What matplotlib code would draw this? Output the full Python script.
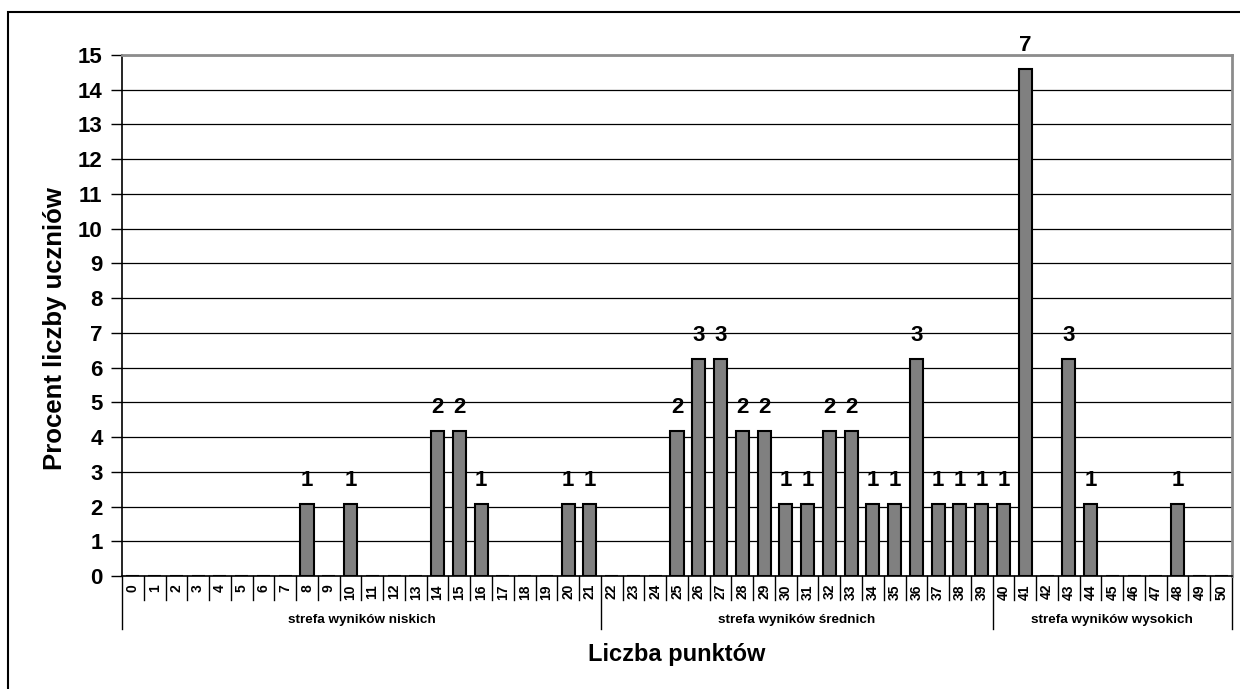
import matplotlib
matplotlib.use("Agg")
import matplotlib.pyplot as plt
from matplotlib.patches import Rectangle
from matplotlib.lines import Line2D
import matplotlib.transforms as mtransforms
import numpy as np

plt.rcParams['font.family'] = ['Liberation Sans', 'DejaVu Sans']
plt.rcParams['font.weight'] = 'bold'

# ---- data ----
points = list(range(51))
counts = [0, 0, 0, 0, 0, 0, 0, 0, 1, 0,
          1, 0, 0, 0, 2, 2, 1, 0, 0, 0,
          1, 1, 0, 0, 0, 2, 3, 3, 2, 2,
          1, 1, 2, 2, 1, 1, 3, 1, 1, 1,
          1, 7, 0, 3, 1, 0, 0, 0, 1, 0,
          0]
total_students = sum(counts)
percent = [c / total_students * 100 for c in counts]
zones = ["strefa wyników niskich", "strefa wyników średnich", "strefa wyników wysokich"]
zone_ranges = [(0, 21), (22, 39), (40, 50)]
y_ticks = list(range(16))
x_title = "Liczba punktów"
y_title = "Procent liczby uczniów"

W, H = 1240, 689
fig = plt.figure(figsize=(W / 100, H / 100), dpi=100)
fig.patch.set_facecolor('white')

left, right, top, bottom = 122, 1232, 55, 576
ax = fig.add_axes([left / W, 1 - bottom / H, (right - left) / W, (bottom - top) / H])
plot_h = bottom - top

ax.bar(points, percent, width=0.6, color='#808080', edgecolor='black', linewidth=1.5, zorder=3)
ax.set_xlim(-0.5, 50.5)
ax.set_ylim(0, 15)
ax.set_yticks(y_ticks)
ax.set_yticklabels([str(t) for t in y_ticks], fontsize=16, fontweight='bold')
ax.tick_params(axis='y', direction='out', length=8, width=1, pad=6)
ax.set_xticks([])
ax.yaxis.grid(True, color='black', linewidth=0.9, zorder=0)
ax.set_axisbelow(True)

for s in ['top', 'right']:
    ax.spines[s].set_color('#8c8c8c')
    ax.spines[s].set_linewidth(2)
ax.spines['left'].set_color('black')
ax.spines['left'].set_linewidth(1.2)
ax.spines['bottom'].set_color('black')
ax.spines['bottom'].set_linewidth(1.2)

# count labels
for x, p, c in zip(points, percent, counts):
    if c > 0:
        ax.annotate(str(c), (x, p), xytext=(0, 13), textcoords='offset points',
                    ha='center', va='baseline', fontsize=16, fontweight='bold')

trans = mtransforms.blended_transform_factory(ax.transData, ax.transAxes)
sep_small = -24 / plot_h
sep_big = -53 / plot_h
# category tick labels and separators
for x in points:
    ax.text(x, -8 / plot_h, str(x), transform=trans, rotation=90, ha='center', va='top',
            fontsize=10, fontweight='bold')
zone_bounds = set()
for a, b in zone_ranges:
    zone_bounds.add(a - 0.5)
    zone_bounds.add(b + 0.5)
for k in range(52):
    xb = k - 0.5
    y1 = sep_big if xb in zone_bounds else sep_small
    ax.add_line(Line2D([xb, xb], [0, y1], transform=trans, color='black', linewidth=1.0, clip_on=False))

for name, (a, b) in zip(zones, zone_ranges):
    ax.text((a + b) / 2, -44 / plot_h, name, transform=trans, ha='center', va='center',
            fontsize=9.7, fontweight='bold')

ax.text(0.5, -(655 - bottom) / plot_h, x_title, transform=ax.transAxes, ha='center', va='center',
        fontsize=17, fontweight='bold')
fig.text(55 / W, 1 - 329 / H, y_title, rotation=90, ha='center', va='center',
         fontsize=18.5, fontweight='bold')

# outer frame (left and top edges visible)
fig.patches.append(Rectangle((8 / W, -0.1), 1.2, 1.1 - 12 / H, transform=fig.transFigure,
                             fill=False, edgecolor='black', linewidth=1.5))

fig.savefig('out.png', dpi=100, facecolor='white')
